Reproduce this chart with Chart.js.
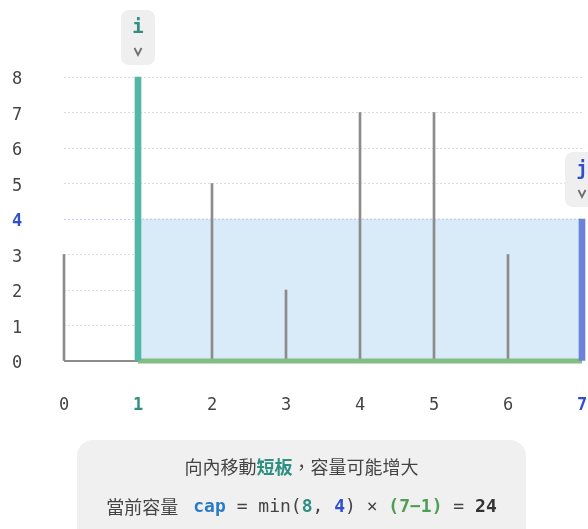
<!DOCTYPE html>
<html>
<head>
<meta charset="utf-8">
<script src="https://cdn.jsdelivr.net/npm/chart.js@4.4.0/dist/chart.umd.min.js"></script>
<style>
  body { margin: 0; background: #fff; }
  #wrap { width: 588px; height: 529px; position: relative; }
</style>
</head>
<body>
<div id="wrap"><canvas id="waterChart"></canvas></div>
<script>
// wall positions and heights
var positions = [0, 1, 2, 3, 4, 5, 6, 7];
var heights = [3, 8, 5, 2, 7, 7, 3, 4];
var iPos = 1;
var jPos = 7;
var yTicks = [0, 1, 2, 3, 4, 5, 6, 7, 8];
var level = Math.min(heights[iPos], heights[jPos]);

var MONO = '"DejaVu Sans Mono", monospace';
var CJK = '"Noto Sans CJK TC", "Noto Sans CJK SC", sans-serif';
var TEAL = '#52b8a6';
var TEAL_TXT = '#2f8f81';
var BLUE = '#6c82d8';
var BLUE_TXT = '#2f4fcf';
var GREEN = '#82bd84';
var GRAY = '#8c8c8c';
var LABEL = '#444';
var LEVEL_LINE = 'rgba(120, 140, 235, 0.45)';

// gray walls = everything except the two pointers
var walls = [];
positions.forEach(function (p, k) {
    if (p !== iPos && p !== jPos) walls.push({ x: p, y: heights[k] });
});

var datasets = [
    { type: 'bar', data: [{ x: jPos, y: heights[jPos] }], backgroundColor: BLUE, barThickness: 6, grouped: false, clip: false, order: 0 },
    { type: 'bar', data: [{ x: iPos, y: heights[iPos] }], backgroundColor: TEAL, barThickness: 6, grouped: false, clip: false, order: 1 },
    { type: 'line', data: [{ x: iPos, y: 0 }, { x: jPos, y: 0 }], borderColor: GREEN, borderWidth: 5, pointRadius: 0, clip: false, order: 2 },
    { type: 'bar', data: walls, backgroundColor: GRAY, barThickness: 2, grouped: false, clip: false, order: 3 },
    { type: 'line', data: [{ x: 0, y: 0 }, { x: iPos, y: 0 }], borderColor: GRAY, borderWidth: 2, pointRadius: 0, clip: false, order: 4 },
    { type: 'line', data: [{ x: iPos, y: level }, { x: jPos, y: level }], borderColor: LEVEL_LINE, borderWidth: 1, borderDash: [2, 2],
      backgroundColor: '#d9eaf8', fill: 'origin', pointRadius: 0, clip: false, order: 5 }
];

function roundBox(ctx, x, y, w, h, r) {
    ctx.beginPath();
    ctx.roundRect(x, y, w, h, r);
    ctx.fill();
}

function pointerBox(ctx, x, topY, label, color) {
    var w = 34, h = 55;
    var bx = x - w / 2, by = topY - 12 - h;
    ctx.fillStyle = '#efefef';
    roundBox(ctx, bx, by, w, h, 8);
    ctx.fillStyle = color;
    ctx.font = 'bold 19px ' + MONO;
    ctx.textAlign = 'center';
    ctx.textBaseline = 'middle';
    ctx.fillText(label, x, by + 18);
    // small chevron
    ctx.strokeStyle = '#6f6f6f';
    ctx.lineWidth = 1.8;
    ctx.beginPath();
    ctx.moveTo(x - 3.5, by + 38);
    ctx.lineTo(x, by + 45);
    ctx.lineTo(x + 3.5, by + 38);
    ctx.stroke();
}

function drawSegments(ctx, segs, cx, cy) {
    var total = 0;
    segs.forEach(function (s) { ctx.font = s.font; total += s.gap || ctx.measureText(s.t).width; });
    var x = cx - total / 2;
    ctx.textAlign = 'left';
    ctx.textBaseline = 'middle';
    segs.forEach(function (s) {
        if (s.gap) { x += s.gap; return; }
        ctx.font = s.font;
        ctx.fillStyle = s.c;
        ctx.fillText(s.t, x, cy);
        x += ctx.measureText(s.t).width;
    });
}

var decor = {
    id: 'decor',
    afterDraw: function (chart) {
        var ctx = chart.ctx;
        var xs = chart.scales.x, ys = chart.scales.y;
        ctx.save();
        pointerBox(ctx, xs.getPixelForValue(iPos), ys.getPixelForValue(heights[iPos]), 'i', TEAL_TXT);
        pointerBox(ctx, xs.getPixelForValue(jPos), ys.getPixelForValue(heights[jPos]), 'j', BLUE_TXT);

        // caption box
        ctx.fillStyle = '#f0f0f0';
        roundBox(ctx, 77, 440, 449, 110, 16);
        var n = '18px ' + CJK, nb = 'bold 18px ' + CJK;
        var m = '18px ' + MONO, mb = 'bold 18px ' + MONO;
        drawSegments(ctx, [
            { t: '向內移動', font: n, c: LABEL },
            { t: '短板', font: nb, c: TEAL_TXT },
            { t: '，容量可能增大', font: n, c: LABEL }
        ], 301.5, 467);
        drawSegments(ctx, [
            { t: '當前容量', font: n, c: LABEL },
            { gap: 15 },
            { t: 'cap', font: mb, c: '#2a7bc6' },
            { t: ' = min(', font: m, c: LABEL },
            { t: String(heights[iPos]), font: mb, c: TEAL_TXT },
            { t: ', ', font: m, c: LABEL },
            { t: String(heights[jPos]), font: mb, c: BLUE_TXT },
            { t: ') × ', font: m, c: LABEL },
            { t: '(' + jPos + '−' + iPos + ')', font: mb, c: '#4f9e53' },
            { t: ' = ', font: m, c: LABEL },
            { t: String(level * (jPos - iPos)), font: mb, c: '#333' }
        ], 301.5, 507);
        ctx.restore();
    }
};

var ctx = document.getElementById('waterChart').getContext('2d');
var waterChart = new Chart(ctx, {
    type: 'bar',
    data: { datasets: datasets },
    options: {
        responsive: true,
        maintainAspectRatio: false,
        animation: false,
        layout: { padding: { top: 77, left: 12, right: 6, bottom: 0 } },
        plugins: { legend: { display: false }, tooltip: { enabled: false } },
        scales: {
            x: {
                type: 'linear', min: 0, max: 7, offset: false,
                grid: { display: false }, border: { display: false },
                afterBuildTicks: function (s) { s.ticks = positions.map(function (v) { return { value: v }; }); },
                ticks: {
                    padding: 26, maxRotation: 0, autoSkip: false,
                    color: function (c) { return c.tick.value === iPos ? TEAL_TXT : c.tick.value === jPos ? BLUE_TXT : LABEL; },
                    font: function (c) {
                        var hot = c.tick && (c.tick.value === iPos || c.tick.value === jPos);
                        return { family: MONO, size: 17, weight: hot ? 'bold' : 'normal' };
                    }
                },
                afterFit: function (s) { s.height = 168; s.paddingLeft = 0; s.paddingRight = 0; }
            },
            y: {
                min: 0, max: 8,
                afterBuildTicks: function (s) { s.ticks = yTicks.map(function (v) { return { value: v }; }); },
                grid: {
                    drawTicks: false, lineWidth: 1,
                    color: function (c) { return c.tick && c.tick.value === level ? LEVEL_LINE : '#dcdcdc'; }
                },
                border: { display: false, dash: [2, 2] },
                ticks: {
                    crossAlign: 'far', padding: 0, labelOffset: 3,
                    color: function (c) { return c.tick.value === level ? BLUE_TXT : LABEL; },
                    font: function (c) {
                        return { family: MONO, size: 17, weight: c.tick && c.tick.value === level ? 'bold' : 'normal' };
                    }
                },
                afterFit: function (s) { s.width = 52; s.paddingTop = 0; s.paddingBottom = 0; }
            }
        }
    },
    plugins: [decor]
});
</script>
</body>
</html>
